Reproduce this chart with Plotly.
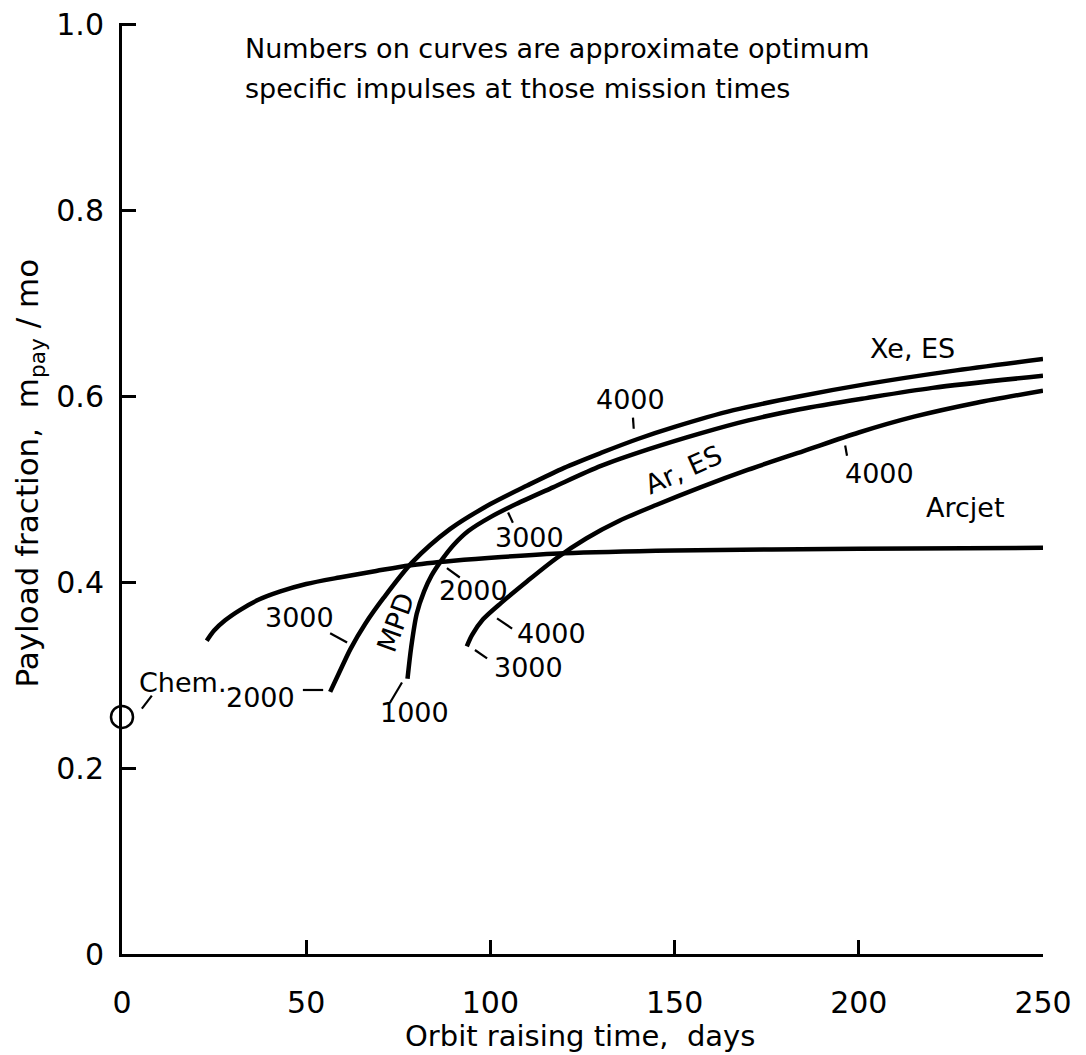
import plotly.graph_objects as go

# ---------------- data ----------------
arcjet_x = [23, 25, 28, 32, 37, 43, 50, 59, 69, 78, 90, 103, 120, 150, 200, 250]
arcjet_y = [0.337, 0.348, 0.359, 0.370, 0.381, 0.390, 0.398, 0.405, 0.412, 0.418, 0.423, 0.427, 0.431, 0.434, 0.436, 0.437]

xe_x = [56.5, 59, 62, 66, 71, 78.7, 89, 100, 110, 120, 130, 140, 150, 166, 184, 202, 225, 250]
xe_y = [0.282, 0.303, 0.328, 0.355, 0.383, 0.421, 0.457, 0.484, 0.504, 0.523, 0.539, 0.554, 0.567, 0.585, 0.600, 0.613, 0.627, 0.640]

mpd_x = [77.5, 78.5, 80, 82, 84, 87, 90, 94, 100, 107, 117, 130, 143, 157, 170, 184, 202, 220, 250]
mpd_y = [0.296, 0.330, 0.366, 0.390, 0.407, 0.425, 0.440, 0.455, 0.470, 0.484, 0.502, 0.525, 0.543, 0.560, 0.574, 0.586, 0.598, 0.609, 0.622]

ar_x = [93.6, 95, 98, 103, 110, 118, 126, 135, 145, 157, 170, 185, 200, 215, 232, 250]
ar_y = [0.331, 0.343, 0.360, 0.378, 0.401, 0.426, 0.447, 0.466, 0.483, 0.502, 0.521, 0.541, 0.561, 0.578, 0.593, 0.606]

chem_x = [0]
chem_y = [0.255]

x_ticks = [0, 50, 100, 150, 200, 250]
x_tick_labels = ["0", "50", "100", "150", "200", "250"]
y_ticks = [0, 0.2, 0.4, 0.6, 0.8, 1.0]
y_tick_labels = ["0", "0.2", "0.4", "0.6", "0.8", "1.0"]

# curve labels: text, x, y, angle
label_text = ["Xe, ES", "4000", "Ar, ES", "4000", "Arcjet", "3000", "2000", "4000", "3000",
              "MPD", "3000", "2000", "1000", "Chem."]
label_x = [214.5, 138.0, 152.5, 205.5, 229.0, 110.7, 95.5, 116.5, 110.3, 74.2, 48.3, 37.5, 79.5, 16.5]
label_y = [0.651, 0.597, 0.521, 0.517, 0.480, 0.448, 0.391, 0.345, 0.308, 0.357, 0.362, 0.276, 0.260, 0.292]
label_angle = [0, 0, -24, 0, 0, 0, 0, 0, 0, -70, 0, 0, 0, 0]

# leader ticks linking labels to curves (x0, y0, x1, y1)
leader_x0 = [138.7, 196.3, 104.8, 88.2, 101.8, 95.8, 56.5, 49.1, 72.7, 5.4]
leader_y0 = [0.577, 0.547, 0.475, 0.415, 0.361, 0.327, 0.345, 0.284, 0.270, 0.264]
leader_x1 = [138.9, 196.8, 106.1, 91.7, 105.9, 99.1, 61.1, 54.6, 76.0, 8.1]
leader_y1 = [0.565, 0.536, 0.464, 0.405, 0.350, 0.318, 0.335, 0.284, 0.292, 0.278]

note_lines = ["Numbers on curves are approximate optimum",
              "specific impulses at those mission times"]

x_title = "Orbit raising time,  days"
y_title = "Payload fraction,  m<sub>pay</sub> / mo"

# ---------------- figure ----------------
FONT = "DejaVu Sans"
fig = go.Figure()

line_style = dict(color="black", width=4.5, shape="spline", smoothing=0.8)
for xs, ys, name in [(arcjet_x, arcjet_y, "Arcjet"), (xe_x, xe_y, "Xe, ES"),
                     (mpd_x, mpd_y, "MPD"), (ar_x, ar_y, "Ar, ES")]:
    fig.add_trace(go.Scatter(x=xs, y=ys, mode="lines", line=line_style, name=name,
                             showlegend=False, hoverinfo="skip"))

fig.add_trace(go.Scatter(x=chem_x, y=chem_y, mode="markers", cliponaxis=False,
                         marker=dict(size=22, color="white", line=dict(color="black", width=2.5)),
                         showlegend=False, hoverinfo="skip"))

for t, x, y, a in zip(label_text, label_x, label_y, label_angle):
    fig.add_annotation(x=x, y=y, text=t, textangle=a, showarrow=False,
                       font=dict(family=FONT, size=27, color="black"))

for x0, y0, x1, y1 in zip(leader_x0, leader_y0, leader_x1, leader_y1):
    fig.add_shape(type="line", x0=x0, y0=y0, x1=x1, y1=y1,
                  line=dict(color="black", width=2.2))

note_y = [1.0 - 0.009, 1.0 - 0.052]
for line, ny in zip(note_lines, note_y):
    fig.add_annotation(x=0.131, y=ny, xref="paper", yref="paper", xanchor="left", yanchor="top",
                       text=line, showarrow=False,
                       font=dict(family=FONT, size=27, color="black"))

# axis titles as annotations for precise placement
fig.add_annotation(x=0.497, y=-0.088, xref="paper", yref="paper", xanchor="center", yanchor="middle",
                   text=x_title, showarrow=False, font=dict(family=FONT, size=29, color="black"))
fig.add_annotation(x=-0.1, y=0.517, xref="paper", yref="paper", xanchor="center", yanchor="middle",
                   text=y_title, textangle=-90, showarrow=False,
                   font=dict(family=FONT, size=31, color="black"))

fig.update_layout(
    width=1086, height=1055,
    margin=dict(l=114, r=51, t=15, b=109),
    paper_bgcolor="white", plot_bgcolor="white",
    font=dict(family=FONT, color="black"),
)
fig.update_xaxes(range=[0, 250], tickvals=x_ticks, ticktext=x_tick_labels, automargin=False,
                 showgrid=False, zeroline=False, showline=True, linecolor="black", linewidth=3,
                 ticks="inside", ticklen=14, tickwidth=2.5, tickcolor="black",
                 tickfont=dict(family=FONT, size=30), ticklabelstandoff=20,
                 ticklabeloverflow="allow")
fig.update_yaxes(range=[0, 1.0015], tickvals=y_ticks, ticktext=y_tick_labels, automargin=False,
                 showgrid=False, zeroline=False, showline=True, linecolor="black", linewidth=3,
                 ticks="inside", ticklen=14, tickwidth=2.5, tickcolor="black",
                 tickfont=dict(family=FONT, size=30), ticklabelstandoff=9,
                 ticklabeloverflow="allow")

fig.write_html("out.html")
